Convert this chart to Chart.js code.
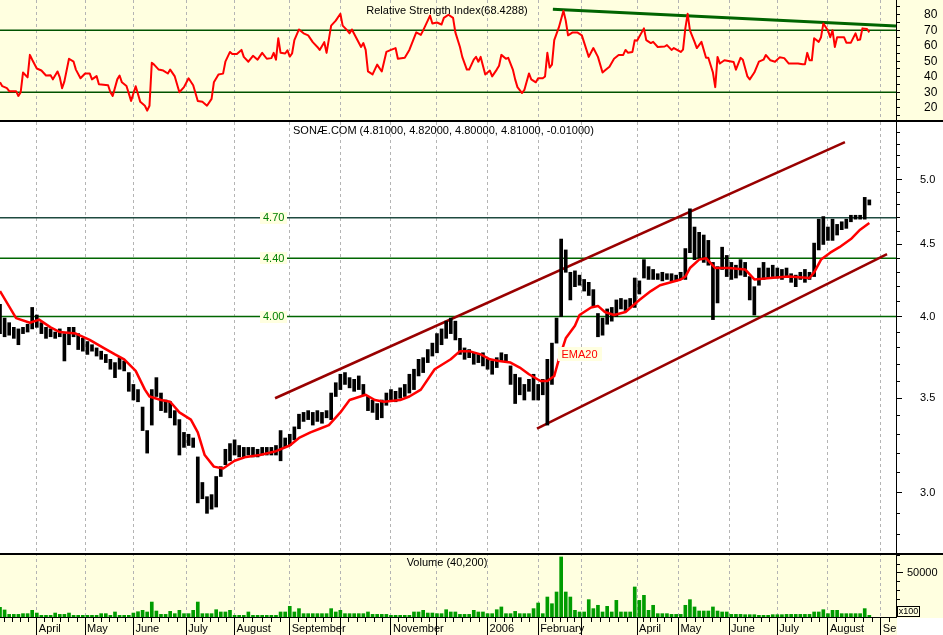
<!DOCTYPE html>
<html>
<head>
<meta charset="utf-8">
<script src="https://cdn.jsdelivr.net/npm/chart.js@4.4.0/dist/chart.umd.min.js"></script>
<style>
  html, body { margin: 0; padding: 0; background: #fff; }
  #wrap { position: relative; width: 943px; height: 635px; overflow: hidden; }
  #wrap canvas { position: absolute; left: 0; }
</style>
</head>
<body>
<div id="wrap">
  <canvas id="rsiChart" width="943" height="122" style="top:0"></canvas>
  <canvas id="priceChart" width="943" height="431" style="top:122px"></canvas>
  <canvas id="volChart" width="943" height="82" style="top:553px"></canvas>
</div>
<script>
// ── axis / time data ──────────────────────────────────────────
const X_MAX = 389.6;          // trading days across the plot
const BAR_STEP = 2;           // one sampled bar every 2 trading days
const monthDays  = [16, 37, 58, 81, 102, 126, 148, 170, 190, 212, 234, 253, 277, 295, 317, 338, 360, 383];
const monthNames = ['April', 'May', 'June', 'July', 'August', 'September', '', 'November', '', '2006',
                    'February', '', 'April', 'May', 'June', 'July', 'August', 'September'];

// ── price (SONAE.COM), sampled every BAR_STEP days ───────────
const priceHigh = [
  4.08,3.99,3.96,3.93,3.92,3.93,3.95,4.06,4.01,3.96, 3.93,3.92,3.90,3.92,3.89,3.93,3.93,3.89,3.86,3.84,
  3.82,3.80,3.78,3.76,3.73,3.71,3.74,3.72,3.65,3.58, 3.55,3.45,3.32,3.55,3.62,3.53,3.49,3.48,3.43,3.38,
  3.31,3.30,3.28,3.18,3.05,2.98,2.99,3.08,3.13,3.22, 3.25,3.27,3.24,3.23,3.23,3.23,3.22,3.23,3.23,3.23,
  3.24,3.32,3.28,3.30,3.34,3.41,3.42,3.43,3.42,3.43, 3.42,3.43,3.53,3.59,3.64,3.65,3.62,3.61,3.63,3.58,
  3.51,3.49,3.47,3.49,3.53,3.55,3.54,3.56,3.58,3.64, 3.67,3.73,3.74,3.79,3.83,3.89,3.92,3.97,3.99,3.97,
  3.86,3.80,3.79,3.77,3.76,3.77,3.73,3.72,3.74,3.77, 3.76,3.69,3.64,3.62,3.58,3.61,3.64,3.58,3.61,3.73,
  3.83,3.99,4.54,4.46,4.30,4.31,4.28,4.25,4.23,4.18, 4.02,3.99,4.05,4.06,4.11,4.12,4.11,4.12,4.26,4.24,
  4.39,4.34,4.32,4.29,4.30,4.29,4.29,4.28,4.30,4.47, 4.77,4.63,4.59,4.57,4.53,4.37,4.34,4.48,4.42,4.37,
  4.35,4.39,4.37,4.27,4.20,4.33,4.37,4.33,4.35,4.33, 4.32,4.33,4.29,4.28,4.30,4.32,4.30,4.51,4.69,4.71,
  4.63,4.69,4.65,4.67,4.69,4.72,4.72,4.72,4.86,4.84
];
const priceLow = [
  3.89,3.87,3.88,3.86,3.82,3.89,3.90,3.92,3.93,3.89, 3.86,3.87,3.86,3.87,3.72,3.82,3.87,3.79,3.78,3.76,
  3.78,3.75,3.73,3.71,3.67,3.62,3.67,3.66,3.54,3.49, 3.48,3.32,3.20,3.35,3.51,3.43,3.42,3.39,3.35,3.19,
  3.23,3.24,3.23,2.95,2.97,2.90,2.92,2.93,3.08,3.14, 3.16,3.19,3.18,3.18,3.19,3.18,3.18,3.19,3.19,3.19,
  3.19,3.16,3.23,3.24,3.27,3.33,3.37,3.38,3.35,3.37, 3.36,3.39,3.38,3.51,3.55,3.58,3.56,3.54,3.55,3.52,
  3.43,3.42,3.38,3.39,3.46,3.49,3.48,3.50,3.51,3.53, 3.55,3.63,3.65,3.71,3.75,3.77,3.82,3.86,3.89,3.85,
  3.76,3.73,3.74,3.70,3.71,3.69,3.67,3.64,3.68,3.72, 3.71,3.58,3.47,3.52,3.49,3.54,3.49,3.49,3.52,3.35,
  3.58,3.83,4.00,4.30,4.11,4.20,4.21,4.17,4.14,4.07, 3.87,3.88,3.95,3.97,4.00,4.05,4.04,4.06,4.06,4.15,
  4.26,4.25,4.25,4.25,4.24,4.25,4.24,4.24,4.25,4.25, 4.44,4.39,4.40,4.37,4.35,3.98,4.09,4.32,4.27,4.25,
  4.26,4.28,4.27,4.11,4.01,4.21,4.25,4.26,4.27,4.26, 4.25,4.27,4.23,4.20,4.25,4.23,4.25,4.27,4.46,4.50,
  4.53,4.53,4.57,4.61,4.62,4.67,4.69,4.69,4.69,4.80
];

// EMA20
const emaDays = [0,7,13,17,22,26,33,39,45,50, 54,59,63,65,70,74,78,83,86,89, 93,97,102,107,113,120,126,130,135,139,
  143,148,152,159,163,167,174,178,183,189, 196,200,204,209,213,217,222,226,230,235, 238,241,243,246,250,252,257,260,263,267,
  272,278,283,287,296,298,300,304,307,311, 317,324,328,335,343,352,354,357,361,365, 370,374,378];
const emaValues = [4.17,3.99,3.96,3.98,3.93,3.90,3.89,3.85,3.80,3.76, 3.73,3.66,3.55,3.51,3.49,3.48,3.42,3.38,3.31,3.19,
  3.13,3.12,3.16,3.18,3.19,3.21,3.24,3.28,3.31,3.33, 3.35,3.42,3.49,3.52,3.49,3.48,3.49,3.51,3.55,3.67,
  3.73,3.78,3.78,3.76,3.73,3.72,3.71,3.68,3.64,3.60, 3.60,3.63,3.73,3.86,3.94,4.01,4.06,4.07,4.03,4.01,
  4.03,4.11,4.17,4.21,4.25,4.27,4.33,4.39,4.40,4.33, 4.33,4.32,4.25,4.26,4.27,4.26,4.30,4.39,4.44,4.48,
  4.54,4.61,4.66];

// trend channel end points (day, price)
const upperChannelDays = [119.6, 367.4], upperChannelValues = [3.50, 5.32];
const lowerChannelDays = [233.5, 385.7], lowerChannelValues = [3.33, 4.43];
const priceLevels = [4.70, 4.40, 4.00];
const priceLevelColors = ['#1e4a40', '#006600', '#006600'];
const levelLabelDay = 119;
const emaLabelDay = 252, emaLabelValue = 3.76;
const priceMajorTicks = [3.0, 3.5, 4.0, 4.5, 5.0];
const priceMinorTicks = [2.8,2.9,3.0,3.1,3.2,3.3,3.4,3.5,3.6,3.7,3.8,3.9,4.0,4.1,4.2,4.3,4.4,4.5,4.6,4.7,4.8,4.9,5.0,5.1,5.2,5.3,5.4];

// ── RSI ───────────────────────────────────────────────────────
const rsiDays = [0,1,3,4,7,8,9,10,12,13, 14,16,18,20,22,23,25,26,27,28, 30,32,33,35,37,39,40,42,43,47,
  48,49,51,52,53,55,57,59,61,63, 64,65,66,67,69,71,73,74,76,78, 80,82,84,86,88,90,92,93,95,97,
  98,100,101,103,105,106,108,110,112,114, 116,118,119,120,121,122,124,125,126,127, 128,130,132,134,136,138,
  139,141,142,144,146,148,149,151,152,153, 155,157,158,159,160,162,164,166,168,170, 172,173,176,178,181,183,184,187,188,190,
  192,193,195,197,198,200,201,203,204,206, 207,208,209,211,213,214,216,217,218,220, 221,223,224,225,227,228,230,231,233,234,
  236,237,238,239,240,241,243,245,246,247, 249,251,253,256,258,260,262,263,265,267, 269,271,272,273,275,276,277,280,281,283,
  284,286,289,290,292,293,296,297,298,299, 300,302,303,305,307,308,310,311,312,313, 315,319,320,322,323,325,326,328,330,332,
  333,335,337,339,341,343,345,347,349,350, 351,352,353,354,356,357,358,360,361,362, 363,364,367,368,370,372,373,374,375,377, 378];
const rsiValues = [36.4,33.9,32.6,30.7,30.7,27.6,30,42.7,39.6,54.1, 51,45.3,44,40.8,41,38.3,43.4,39.6,32.6,37,
  51.6,49.7,44.6,39,42.1,42.1,38.3,40.4,35.2,34.5, 30,27.6,38.3,40.8,36.4,34,24.4,33.9,23.8,21.3,
  18.1,21.3,49,47.8,44.6,44,42.1,44.6,40.2,30, 33.3,39,34.5,24.4,23.8,21.3,25.7,36.4,41.5,42,
  49.7,56,54.7,54.7,57.3,52.8,49.7,53.5,51,55.4, 51.6,52,55.4,51,64.8,55.4,55,57,53,55, 63.6,70.5,68,66.7,62.3,59.2,
  57.3,62.3,55.4,73,76.2,80.6,73,69.9,68,70.5, 64.8,59.2,61.7,57.3,43.4,41.5,47.8,43.4,56,57.3,
  58.5,51.6,52.2,57.3,68.6,67,69.9,79.4,74.3,75, 73.7,78,80,78,68.6,59.2,52.8,44.6,44.6,51,
  52.8,49.7,52.8,41.5,44,40.2,44.6,47.1,54.1,51.6, 52.2,44.6,38.3,33.3,29.5,31.5,42.1,38.3,36.4,39,
  39,40.2,55.4,45.9,47.8,63.6,71.8,82.5,76.2,66.7, 68.6,68.6,66.7,52.8,58.5,52.8,42.7,44,46.5,51.6,
  54,54.1,57.3,55.5,56,63.6,63.2,71.2,63.6,61.7, 62.5,59.2,59.5,60.4,57.3,58.5,56,57.5,71.2,80.6,
  69.9,62.5,58.5,62.5,52.2,52.2,42.7,33.3,52.8,48.5, 50.6,49.5,44.6,52.2,51,40.2,38.3,42.7,49.7,51,
  54,50.6,49.7,52.5,52,48.5,48.5,48.5,48,48, 55.4,50.6,50.6,64.8,62.5,65.5,74.3,69.9,65.5,69.9,
  59.2,65.5,65.5,62,62,68,63.6,64,71.2,70.8, 68.6];
const rsiTrendDays = [240.4, 389.6], rsiTrendValues = [83.5, 72.8];
const rsiLevels = [70, 30];
const rsiTicks = [15,20,25,30,35,40,45,50,55,60,65,70,75,80,85];

// ── volume (x100), sampled every BAR_STEP days ───────────────
const volume = [
  11000,8000,3000,3000,3000,3800,3800,7600,4500,1900, 1900,1900,4500,3000,3000,4500,1900,1900,1900,1900,
  1900,1900,3800,3800,1900,5700,1900,1900,1900,4500, 6000,7600,5700,17000,6800,3000,3000,6400,3800,7600,
  3800,3800,7600,17000,3800,3800,3800,8300,5700,5700, 7600,1900,1900,1900,5700,1900,1900,1900,1900,1900,
  1900,5700,5700,12100,5700,9500,3800,3800,3800,3800, 3800,3800,9500,5700,7600,3800,3800,3800,3800,3800,
  5700,3000,3000,3000,3000,1900,1900,1900,1900,1900, 5700,5700,7600,4500,4500,3800,3800,8300,5700,5700,
  3000,3000,3000,7600,5700,5700,3800,3800,8300,11400, 3800,3800,6400,3800,3800,3800,9500,15900,3800,22700,
  15100,28400,68200,28400,22700,7600,5700,5700,19700,9500, 13300,5700,12100,5700,18900,5700,5700,5700,34100,18900,
  24600,7600,13300,3800,3800,3800,3000,3000,3000,13300, 19700,11400,6800,6800,6800,11400,6800,5700,5700,3000,
  3000,3000,2650,2650,2650,1900,1900,1900,2650,2650, 2650,3000,3000,3000,3000,3000,3000,5700,5700,8300,
  3800,7600,7600,3800,3800,3800,3800,3800,9500,1900
];
const volMajorTicks = [50000];
const volMinorTicks = [10000,20000,30000,40000,50000,60000,70000];

// ── styling ───────────────────────────────────────────────────
const FONT = '"Liberation Sans", Arial, sans-serif';
const YELLOW = '#ffffe0';
const AXIS_W = 47;
Chart.defaults.font.family = FONT;
Chart.defaults.font.size = 11;
Chart.defaults.color = '#000';

// five small ticks between month starts (about every 5 calendar days)
function minorTimeTicks() {
  const out = [];
  const n = monthDays.length;
  const first = (monthDays[1] - monthDays[0]) / 6;
  for (let d = monthDays[0] - first; d > 0; d -= first) out.push(d);
  for (let m = 0; m < n - 1; m++) {
    const step = (monthDays[m + 1] - monthDays[m]) / 6;
    for (let k = 1; k < 6; k++) out.push(monthDays[m] + k * step);
  }
  const last = (monthDays[n - 1] - monthDays[n - 2]) / 6;
  for (let d = monthDays[n - 1] + last; d < X_MAX; d += last) out.push(d);
  return out.sort((a, b) => a - b);
}

// the axes must not add label padding to the plot area
function noPad(s) {
  s.paddingTop = 0; s.paddingBottom = 0; s.paddingLeft = 0; s.paddingRight = 0;
}

function hiddenTimeAxis() {
  return {
    type: 'linear', position: 'bottom', min: 0, max: X_MAX, offset: false, bounds: 'data',
    afterBuildTicks: s => { s.ticks = monthDays.map(v => ({ value: v })); },
    afterFit: s => { s.height = 0; noPad(s); },
    ticks: { display: false },
    grid: { color: '#b4b4b4', lineWidth: 1, drawTicks: false, offset: false },
    border: { display: false, dash: [3, 3] }
  };
}

function rightAxis(cfg) {
  return {
    type: cfg.type || 'linear', position: 'right', min: cfg.min, max: cfg.max, bounds: 'data',
    weight: cfg.weight || 0,
    afterBuildTicks: s => { s.ticks = cfg.ticks.map(v => ({ value: v })); },
    afterFit: s => { s.width = cfg.width; noPad(s); },
    ticks: {
      display: !!cfg.label, autoSkip: false, padding: cfg.padding || 0,
      font: { family: FONT, size: cfg.fontSize || 11 }, color: '#000',
      callback: cfg.label || (() => '')
    },
    grid: { drawOnChartArea: false, drawTicks: true, tickLength: cfg.tickLength, tickColor: '#000', tickWidth: 1 },
    border: { display: !!cfg.border, color: '#000', width: 1 }
  };
}

const xy = (days, vals) => days.map((d, i) => ({ x: d, y: vals[i] }));
const hline = v => [{ x: 0, y: v }, { x: X_MAX, y: v }];
const baseOptions = {
  responsive: false, animation: false, devicePixelRatio: 1, events: [],
  layout: { padding: 0 },
  plugins: { legend: { display: false }, tooltip: { enabled: false } },
  elements: { point: { radius: 0 }, line: { tension: 0, borderJoinStyle: 'round' } }
};

function drawText(ctx, text, x, y, align, color, size) {
  ctx.save();
  ctx.font = (size || 11) + 'px ' + FONT;
  ctx.fillStyle = color || '#000';
  ctx.textAlign = align || 'left';
  ctx.textBaseline = 'middle';
  ctx.fillText(text, x, y);
  ctx.restore();
}

function boxedText(ctx, text, cx, cy, w, h, color) {
  ctx.save();
  ctx.fillStyle = YELLOW;
  ctx.fillRect(Math.round(cx - w / 2), Math.round(cy - h / 2), w, h);
  ctx.restore();
  drawText(ctx, text, cx, cy + 0.5, 'center', color, 11);
}

// ── RSI panel ────────────────────────────────────────────────
new Chart(document.getElementById('rsiChart'), {
  type: 'line',
  data: {
    datasets: [
      { data: xy(rsiDays, rsiValues), borderColor: '#ff0000', borderWidth: 2 },
      { data: xy(rsiTrendDays, rsiTrendValues), borderColor: '#006400', borderWidth: 3 },
      { data: hline(rsiLevels[0]), borderColor: '#005200', borderWidth: 1.5 },
      { data: hline(rsiLevels[1]), borderColor: '#005200', borderWidth: 1.5 }
    ]
  },
  options: Object.assign({}, baseOptions, {
    scales: {
      x: hiddenTimeAxis(),
      y: rightAxis({ min: 10.8, max: 89.5, ticks: rsiTicks, width: AXIS_W, tickLength: 4, padding: 24,
                     fontSize: 12, border: true, label: v => (v % 10 === 0 ? String(v) : '') })
    }
  }),
  plugins: [{
    id: 'rsiDeco',
    beforeDraw(c) {
      const ctx = c.ctx;
      ctx.save(); ctx.fillStyle = YELLOW; ctx.fillRect(0, 0, c.width, c.height); ctx.restore();
    },
    afterDraw(c) {
      const ctx = c.ctx;
      ctx.save(); ctx.fillStyle = '#000'; ctx.fillRect(0, c.height - 2, c.width, 2); ctx.restore();
      drawText(ctx, 'Relative Strength Index(68.4288)', 447, 11, 'center');
    }
  }]
});

// ── price panel ──────────────────────────────────────────────
const priceBars = priceHigh.map((h, i) => ({ x: i * BAR_STEP, y: [priceLow[i], h] }));
new Chart(document.getElementById('priceChart'), {
  type: 'bar',
  data: {
    datasets: [
      { type: 'line', data: xy(emaDays, emaValues), borderColor: '#ff0000', borderWidth: 2.5 },
      { type: 'bar', data: priceBars, backgroundColor: '#000', barThickness: 3, borderWidth: 0 },
      { type: 'line', data: xy(upperChannelDays, upperChannelValues), borderColor: '#990000', borderWidth: 2.5 },
      { type: 'line', data: xy(lowerChannelDays, lowerChannelValues), borderColor: '#990000', borderWidth: 2.5 },
      ...priceLevels.map((v, i) => ({ type: 'line', data: hline(v), borderColor: priceLevelColors[i], borderWidth: 1.5 }))
    ]
  },
  options: Object.assign({}, baseOptions, {
    scales: {
      x: hiddenTimeAxis(),
      y: rightAxis({ type: 'logarithmic', min: 2.718, max: 5.497, ticks: priceMajorTicks, width: AXIS_W,
                     weight: 1, tickLength: 6, padding: 18, border: true, label: v => v.toFixed(1) }),
      yMinor: rightAxis({ type: 'logarithmic', min: 2.718, max: 5.497, ticks: priceMinorTicks, width: 0,
                          weight: 0, tickLength: 4 })
    }
  }),
  plugins: [{
    id: 'priceDeco',
    beforeDraw(c) {
      const ctx = c.ctx;
      ctx.save(); ctx.fillStyle = '#fff'; ctx.fillRect(0, 0, c.width, c.height); ctx.restore();
    },
    afterDraw(c) {
      const ctx = c.ctx, xs = c.scales.x, ys = c.scales.y;
      drawText(ctx, 'SON\u00C6.COM (4.81000, 4.82000, 4.80000, 4.81000, -0.01000)', 293, 9, 'left');
      priceLevels.forEach(v => {
        boxedText(ctx, v.toFixed(2), xs.getPixelForValue(levelLabelDay), ys.getPixelForValue(v), 27, 12, '#008000');
      });
      boxedText(ctx, 'EMA20', xs.getPixelForValue(emaLabelDay), ys.getPixelForValue(emaLabelValue), 44, 14, '#ff0000');
    }
  }]
});

// ── volume panel + time axis ────────────────────────────────
const volBars = volume.map((v, i) => ({ x: i * BAR_STEP, y: v }));
new Chart(document.getElementById('volChart'), {
  type: 'bar',
  data: { datasets: [{ data: volBars, backgroundColor: '#009c00', barThickness: 3, borderWidth: 0 }] },
  options: Object.assign({}, baseOptions, {
    scales: {
      x: {
        type: 'linear', position: 'bottom', min: 0, max: X_MAX, offset: false, bounds: 'data', weight: 1,
        afterBuildTicks: s => { s.ticks = monthDays.map(v => ({ value: v })); },
        afterFit: s => { s.height = 18; noPad(s); },
        ticks: { autoSkip: false, maxRotation: 0, minRotation: 0, align: 'start', labelOffset: 2,
                 padding: -13, color: '#000', font: { family: FONT, size: 11 },
                 callback: (v, i) => monthNames[i] },
        grid: { color: '#b4b4b4', lineWidth: 1, offset: false, drawTicks: true, tickLength: 18,
                tickColor: '#000', tickWidth: 1, tickBorderDash: [] },
        border: { display: true, color: '#000', width: 1, dash: [3, 3] }
      },
      xWeek: {
        type: 'linear', position: 'bottom', min: 0, max: X_MAX, offset: false, bounds: 'data', weight: 0,
        afterBuildTicks: s => { s.ticks = minorTimeTicks().map(v => ({ value: v })); },
        afterFit: s => { s.height = 0; noPad(s); },
        ticks: { display: false },
        grid: { drawOnChartArea: false, drawTicks: true, tickLength: 5, tickColor: '#000', offset: false },
        border: { display: false }
      },
      y: rightAxis({ min: 0, max: 72700, ticks: volMajorTicks, width: AXIS_W, weight: 1, tickLength: 7,
                     padding: 4, border: true, label: v => String(v) }),
      yMinor: rightAxis({ min: 0, max: 72700, ticks: volMinorTicks, width: 0, weight: 0, tickLength: 4 })
    }
  }),
  plugins: [{
    id: 'volDeco',
    beforeDraw(c) {
      const ctx = c.ctx;
      ctx.save(); ctx.fillStyle = YELLOW; ctx.fillRect(0, 0, c.width, c.height); ctx.restore();
    },
    afterDraw(c) {
      const ctx = c.ctx, a = c.chartArea;
      ctx.save();
      // white corner right of the date labels (clips the last month name)
      ctx.fillStyle = '#fff';
      ctx.fillRect(a.right + 1, a.bottom + 1, c.width - a.right, c.height - a.bottom);
      ctx.fillStyle = '#000';
      ctx.fillRect(0, 0, c.width, 2);
      // "x100" unit box
      ctx.fillStyle = YELLOW;
      ctx.fillRect(a.right + 1.5, a.bottom - 10.5, 22, 10);
      ctx.strokeStyle = '#000'; ctx.lineWidth = 1;
      ctx.strokeRect(a.right + 1.5, a.bottom - 10.5, 22, 10);
      ctx.restore();
      drawText(ctx, 'x100', a.right + 12.5, a.bottom - 5, 'center', '#000', 9);
      drawText(ctx, 'Volume (40,200)', 447, 10, 'center');
    }
  }]
});
</script>
</body>
</html>
